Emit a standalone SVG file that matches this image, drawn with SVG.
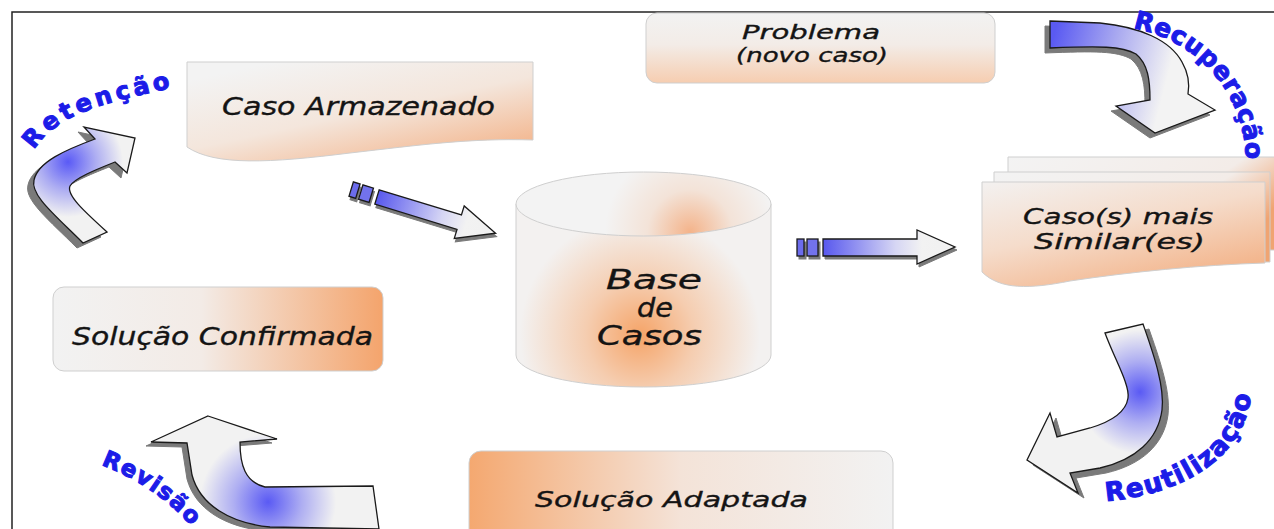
<svg xmlns="http://www.w3.org/2000/svg" xmlns:xlink="http://www.w3.org/1999/xlink" width="1274" height="529" viewBox="0 0 1274 529">
<style>
.hand{font-family:"DejaVu Sans","Liberation Sans",sans-serif;font-style:italic;fill:#141414;stroke:#141414;stroke-width:0.35;text-anchor:start}
.lbl{font-family:"DejaVu Sans","Liberation Sans",sans-serif;font-weight:bold;fill:#1c1ce8;stroke:#1c1ce8;stroke-width:1.1}
.box{stroke:#cfcfcf;stroke-width:1}
.arr{stroke:#1a1a1a;stroke-width:1.3;stroke-linejoin:miter}
.shadow{fill:#7a7a7a;stroke:#7a7a7a;stroke-width:1}
.frame{stroke:#222;stroke-width:1.5;fill:none}
</style>
<defs>
<linearGradient id="gDoc" x1="0.25" y1="0" x2="1" y2="1">
<stop offset="0" stop-color="#f3f3f3"/><stop offset="0.45" stop-color="#f4e6dc"/><stop offset="1" stop-color="#f3ab7c"/>
</linearGradient>
<linearGradient id="gProb" x1="0" y1="0" x2="0" y2="1">
<stop offset="0" stop-color="#f2f2f2"/><stop offset="0.45" stop-color="#f3ece7"/><stop offset="1" stop-color="#f6cdb0"/>
</linearGradient>
<linearGradient id="gConf" x1="0" y1="0" x2="1" y2="0">
<stop offset="0" stop-color="#f2f2f2"/><stop offset="0.45" stop-color="#f3ebe6"/><stop offset="1" stop-color="#f4a46c"/>
</linearGradient>
<linearGradient id="gAdap" x1="0" y1="0" x2="1" y2="0">
<stop offset="0" stop-color="#f4a870"/><stop offset="0.5" stop-color="#f4e3d8"/><stop offset="1" stop-color="#f2f2f2"/>
</linearGradient>
<linearGradient id="gFront" x1="0" y1="0" x2="0.6" y2="1">
<stop offset="0" stop-color="#f3f1f0"/><stop offset="0.5" stop-color="#f5dccb"/><stop offset="1" stop-color="#f3b58c"/>
</linearGradient>
<linearGradient id="gSheet" x1="0" y1="0" x2="1" y2="0.5">
<stop offset="0" stop-color="#f3f3f3"/><stop offset="0.7" stop-color="#f3ece8"/><stop offset="1" stop-color="#f0a472"/>
</linearGradient>
<radialGradient id="gCylBody" gradientUnits="userSpaceOnUse" cx="640" cy="335" r="120">
<stop offset="0" stop-color="#f5a468"/><stop offset="0.45" stop-color="#f5cdb0"/><stop offset="1" stop-color="#f3f1f0"/>
</radialGradient>
<radialGradient id="gCylTop" gradientUnits="userSpaceOnUse" cx="690" cy="232" r="85">
<stop offset="0" stop-color="#f4b38a"/><stop offset="0.5" stop-color="#f3e3d8"/><stop offset="1" stop-color="#f3f3f3"/>
</radialGradient>
<linearGradient id="gStraight" x1="0" y1="0" x2="1" y2="0">
<stop offset="0" stop-color="#5858ee"/><stop offset="0.55" stop-color="#d6d6f4"/><stop offset="0.75" stop-color="#f2f2f2"/><stop offset="1" stop-color="#f0f0f0"/>
</linearGradient>
<radialGradient id="gRet" gradientUnits="userSpaceOnUse" cx="68" cy="162" r="55">
<stop offset="0" stop-color="#5a5af6"/><stop offset="0.5" stop-color="#acacf2"/><stop offset="1" stop-color="#f2f2f2"/>
</radialGradient>
<linearGradient id="gRec" gradientUnits="userSpaceOnUse" x1="1055" y1="30" x2="1172" y2="60">
<stop offset="0" stop-color="#5a5af2"/><stop offset="0.5" stop-color="#a8a8f0"/><stop offset="1" stop-color="#f3f3f3"/>
</linearGradient>
<radialGradient id="gReu" gradientUnits="userSpaceOnUse" cx="1140" cy="392" r="62">
<stop offset="0" stop-color="#5a5af4"/><stop offset="0.5" stop-color="#aeaef2"/><stop offset="1" stop-color="#f2f2f2"/>
</radialGradient>
<radialGradient id="gRev" gradientUnits="userSpaceOnUse" cx="268" cy="502" r="68">
<stop offset="0" stop-color="#5a5af4"/><stop offset="0.5" stop-color="#aeaef2"/><stop offset="1" stop-color="#f2f2f2"/>
</radialGradient>
<path id="aRet" d="M83,243 C55,215 30,195 34,180 C38,162 65,150 95,139 L84,127 L135,138 L127,173 L115,162 C95,170 75,178 70,186 C66,195 85,212 107,232 Z"/>
<path id="aRec" d="M1050,21 L1100,23 C1140,27 1170,40 1182,62 C1190,76 1189,88 1188,94 L1215,110 L1155,133 L1116,106 L1150,100 C1150,80 1148,64 1136,54 C1122,46 1100,46 1050,48 Z"/>
<path id="aReu" d="M1105,333 L1143,324 C1152,350 1165,385 1162,410 C1158,440 1135,460 1100,468 L1070,473 L1078,493 L1027,460 L1050,413 L1057,437 L1090,428 C1110,422 1126,412 1128,398 C1130,385 1115,360 1105,333 Z"/>
<path id="aRev" d="M208,416 L277,439 L240,442 C240,465 245,482 265,487 L373,486 L379,529 L270,527 C230,523 200,505 192,475 L187,443 L151,442 Z"/>
<path id="tRet" d="M34,150 C58,112 110,102 171,88"/>
<path id="tRec" d="M1133,28 C1195,40 1245,90 1246,162"/>
<path id="tReu" d="M1106,501 C1180,495 1248,460 1252,386"/>
<path id="tRev" d="M101,465 C133,477 166,497 191,526"/>
</defs>

<rect width="1274" height="529" fill="#ffffff"/>
<path class="frame" d="M12,529 V12 H1274"/>

<g id="caso-armazenado">
<path class="box" fill="url(#gDoc)" d="M187,62 H533 V140 C470,138 420,145 350,153 C270,163 215,166 187,147 Z"/>
<text class="hand" x="222" y="115" font-size="24" textLength="273" lengthAdjust="spacingAndGlyphs">Caso Armazenado</text>
</g>

<g id="problema">
<rect class="box" x="646" y="13" width="349" height="70" rx="11" fill="url(#gProb)"/>
<text class="hand" x="742" y="39" font-size="19" textLength="138" lengthAdjust="spacingAndGlyphs">Problema</text>
<text class="hand" x="736" y="62" font-size="19" textLength="152" lengthAdjust="spacingAndGlyphs">(novo caso)</text>
</g>

<g id="casos-similares">
<path class="box" fill="url(#gSheet)" d="M1008,157 H1280 V250 H1008 Z"/>
<path class="box" fill="url(#gSheet)" d="M994,172 H1270 V262 H994 Z"/>
<path class="box" fill="url(#gFront)" d="M982,182 H1265 V263 C1200,265 1130,272 1070,281 C1030,289 1000,290 982,272 Z"/>
<text class="hand" x="1023" y="224" font-size="22" textLength="190" lengthAdjust="spacingAndGlyphs">Caso(s) mais</text>
<text class="hand" x="1034" y="249" font-size="22" textLength="171" lengthAdjust="spacingAndGlyphs">Similar(es)</text>
</g>

<g id="base-casos">
<path class="box" fill="url(#gCylBody)" d="M516,204 V355 A127.5,32 0 0 0 771,355 V204 Z"/>
<ellipse class="box" cx="643.5" cy="204" rx="127.5" ry="32" fill="url(#gCylTop)"/>
<text class="hand" x="606" y="289" font-size="26" textLength="96" lengthAdjust="spacingAndGlyphs">Base</text>
<text class="hand" x="637" y="317" font-size="26" textLength="36" lengthAdjust="spacingAndGlyphs">de</text>
<text class="hand" x="597" y="345" font-size="26" textLength="105" lengthAdjust="spacingAndGlyphs">Casos</text>
</g>

<g id="solucao-confirmada">
<rect class="box" x="53" y="287" width="330" height="84" rx="11" fill="url(#gConf)"/>
<text class="hand" x="72" y="345" font-size="24" textLength="301" lengthAdjust="spacingAndGlyphs">Solução Confirmada</text>
</g>

<g id="solucao-adaptada">
<rect class="box" x="469" y="451" width="424" height="92" rx="12" fill="url(#gAdap)"/>
<text class="hand" x="535" y="507" font-size="22" textLength="273" lengthAdjust="spacingAndGlyphs">Solução Adaptada</text>
</g>

<g id="connectors">
<g transform="translate(377,197) rotate(17)">
<path class="shadow" transform="translate(2,3)" d="M0,-7.5 H86 V-17 L124,0 L86,17 V7.5 H0 Z"/>
<rect class="shadow" transform="translate(2,3)" x="-27" y="-7.5" width="7" height="15"/>
<rect class="shadow" transform="translate(2,3)" x="-17" y="-7.5" width="11" height="15"/>
<path class="arr" fill="url(#gStraight)" d="M0,-7.5 H86 V-17 L124,0 L86,17 V7.5 H0 Z"/>
<rect class="arr" fill="#6c6cec" x="-27" y="-7.5" width="7" height="15"/>
<rect class="arr" fill="#7272ec" x="-17" y="-7.5" width="11" height="15"/>
</g>
<g>
<path class="shadow" transform="translate(2,3)" d="M823,239 H917 V230 L955,247 L917,264 V256 H823 Z"/>
<rect class="shadow" transform="translate(2,3)" x="797" y="239" width="7" height="17"/>
<rect class="shadow" transform="translate(2,3)" x="807" y="239" width="11" height="17"/>
<path class="arr" fill="url(#gStraight)" d="M823,239 H917 V230 L955,247 L917,264 V256 H823 Z"/>
<rect class="arr" fill="#6c6cec" x="797" y="239" width="7" height="17"/>
<rect class="arr" fill="#7272ec" x="807" y="239" width="11" height="17"/>
</g>
<use href="#aRet" xlink:href="#aRet" class="shadow" transform="translate(-6,5)"/>
<use href="#aRet" xlink:href="#aRet" class="arr" fill="url(#gRet)"/>
<use href="#aRec" xlink:href="#aRec" class="shadow" transform="translate(-5,5)"/>
<use href="#aRec" xlink:href="#aRec" class="arr" fill="url(#gRec)"/>
<use href="#aReu" xlink:href="#aReu" class="shadow" transform="translate(6,5)"/>
<use href="#aReu" xlink:href="#aReu" class="arr" fill="url(#gReu)"/>
<use href="#aRev" xlink:href="#aRev" class="shadow" transform="translate(-5,4)"/>
<use href="#aRev" xlink:href="#aRev" class="arr" fill="url(#gRev)"/>
<text class="lbl" font-size="24"><textPath href="#tRet" xlink:href="#tRet" textLength="154" lengthAdjust="spacing">Retenção</textPath></text>
<text class="lbl" font-size="25"><textPath href="#tRec" xlink:href="#tRec" textLength="188" lengthAdjust="spacing">Recuperação</textPath></text>
<text class="lbl" font-size="26"><textPath href="#tReu" xlink:href="#tReu" textLength="195" lengthAdjust="spacing">Reutilização</textPath></text>
<text class="lbl" font-size="23"><textPath href="#tRev" xlink:href="#tRev" textLength="110" lengthAdjust="spacing">Revisão</textPath></text>
</g>
</svg>
